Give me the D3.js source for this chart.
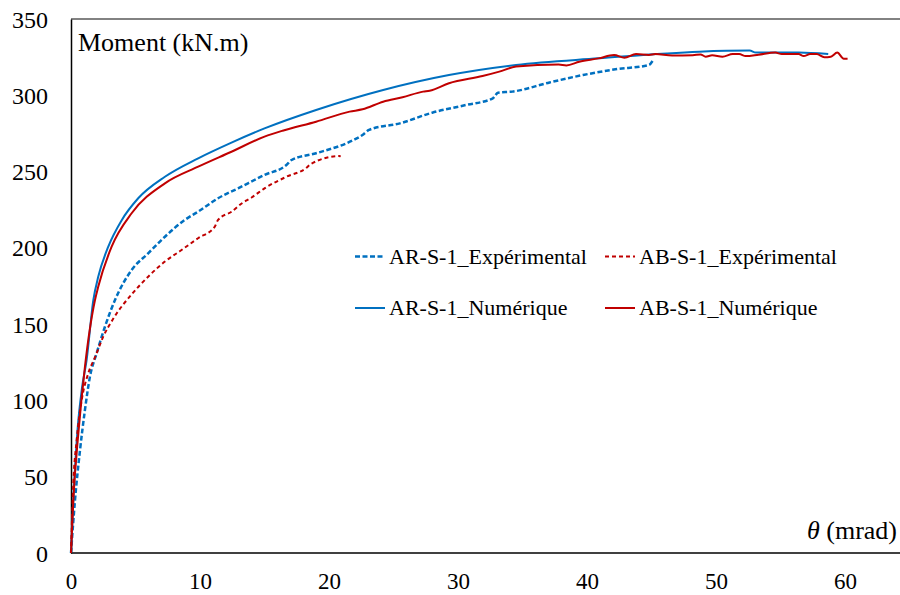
<!DOCTYPE html>
<html><head><meta charset="utf-8">
<script src="https://cdn.jsdelivr.net/npm/d3@7"></script>
<style>body{margin:0;background:#fff}svg{display:block}text{font-family:"Liberation Serif","Times New Roman",serif;fill:#000}</style>
</head><body>
<svg id="c" width="900" height="595"></svg>
<script>
const xTicks = [0, 10, 20, 30, 40, 50, 60];
const yTicks = [0, 50, 100, 150, 200, 250, 300, 350];

const arNumX = [0, 0.2, 0.5, 0.85, 1.21, 1.73, 2.11, 2.89, 3.92, 5.21, 7.28, 9.86, 12.44, 15.0, 19.0, 24.2, 29.3, 34.5, 40.9, 48.7, 52.6, 53.1, 56.4, 58.7];
const arNumY = [0, 38, 80, 108, 126.5, 165.8, 181, 200.8, 218, 232.5, 246.6, 258.7, 269, 278.3, 290.4, 303.5, 313.3, 319.9, 324.2, 328.6, 329.3, 328, 328, 327];

const abNumX = [0, 0.18, 0.57, 1.08, 1.86, 2.11, 3.15, 4.70, 7.28, 9.86, 12.44, 15.0, 16.4, 19.0, 21.6, 22.6, 24.2, 25.7, 27.3, 27.8, 29.3, 31.9, 33.2, 34.5, 37.8, 38.4, 39.4, 40.9, 42.1, 42.9, 43.8, 44.8, 45.3, 46.6, 48.2, 48.8, 49.2, 49.7, 50.5, 51.3, 51.8, 52.3, 53.3, 54.6, 55.1, 56.4, 56.8, 57.3, 57.8, 58.4, 58.9, 59.4, 59.9, 60.2];
const abNumY = [0, 34.7, 78.4, 122, 165.8, 174.5, 200.8, 222.7, 242.3, 253.2, 263, 272.9, 276.8, 282.7, 289.3, 290.8, 295.8, 298.7, 302.4, 303, 307.9, 312.6, 315.5, 318.8, 320.1, 319.6, 322, 324.2, 326.4, 324.6, 327, 326.4, 327, 326, 326.2, 326.8, 325.3, 326.2, 325.3, 327, 327, 325.7, 326.6, 328, 327, 327, 325.7, 327, 327, 324.9, 325.3, 328, 324, 324];

const arExpX = [0, 0.31, 0.70, 1.08, 1.47, 1.99, 2.63, 3.41, 4.70, 5.98, 7.28, 8.82, 9.85, 11.4, 12.95, 15.0, 16.7, 17.1, 19.0, 21.9, 22.6, 23.1, 25.5, 28.0, 30.6, 32.7, 33.1, 34.2, 37.1, 39.7, 42.2, 44.8, 45.1];
const arExpY = [0, 34.7, 67.5, 93.7, 115.6, 131, 148.3, 165.8, 185.5, 196.4, 207.3, 218.3, 223.7, 232.5, 239, 247.8, 254.3, 257.6, 262, 270.7, 274, 277.3, 281.6, 288.6, 293.6, 298, 301.7, 302.4, 308.4, 313.3, 317, 319.9, 322.7];

const abExpX = [0, 0.18, 0.44, 0.83, 1.34, 1.86, 2.50, 3.27, 4.70, 5.98, 7.28, 8.57, 9.85, 11.15, 11.4, 12.44, 13.3, 14.0, 15.0, 16.7, 18.2, 18.6, 20.8, 20.9];
const abExpY = [0, 45.7, 74, 100.3, 117.8, 128.2, 141.8, 153.5, 169.5, 181.1, 191, 198.6, 206.3, 213.9, 218.3, 223.7, 229.5, 233, 239, 246.6, 252.1, 255, 260.2, 259.8];

const seriesNames = ["AR-S-1_Expérimental", "AB-S-1_Expérimental", "AR-S-1_Numérique", "AB-S-1_Numérique"];

const svg = d3.select("#c");
const x = d3.scaleLinear().domain([0, 65]).range([71, 71 + 65 * 12.9]);
const y = d3.scaleLinear().domain([0, 350]).range([553, 19]);

// top border
svg.append("line").attr("x1", 71).attr("x2", 900).attr("y1", 19).attr("y2", 19)
  .attr("stroke", "#595959").attr("stroke-width", 1.5);

// axes
const xAxis = svg.append("g").attr("transform", "translate(0,553)")
  .call(d3.axisBottom(x).tickValues(xTicks).tickSize(0).tickPadding(0).tickFormat(d3.format("d")));
xAxis.select(".domain").attr("stroke", "#000").attr("stroke-width", 1.5).attr("d", "M71,0H900");
xAxis.selectAll("text").attr("y", 36).attr("dy", 0).style("font-size", "23px").style("font-family", "Liberation Serif");

const yAxis = svg.append("g").attr("transform", "translate(71,0)")
  .call(d3.axisLeft(y).tickValues(yTicks).tickSize(0).tickPadding(0).tickFormat(d3.format("d")));
yAxis.select(".domain").attr("stroke", "#000").attr("stroke-width", 1.5);
yAxis.selectAll("text").attr("x", -23).attr("dy", 8).style("font-size", "24px").style("font-family", "Liberation Serif");

const mk = (xs, ys) => xs.map((v, i) => [v, ys[i]]);
const line = d3.line().x(d => x(d[0])).y(d => y(d[1])).curve(d3.curveMonotoneX);

const series = [
  {name: seriesNames[2], data: mk(arNumX, arNumY), color: "#0070C0", dash: null, w: 2},
  {name: seriesNames[0], data: mk(arExpX, arExpY), color: "#0070C0", dash: "5,2.5", w: 2.5},
  {name: seriesNames[1], data: mk(abExpX, abExpY), color: "#C00000", dash: "4,3", w: 2},
  {name: seriesNames[3], data: mk(abNumX, abNumY), color: "#C00000", dash: null, w: 2},
];
series.forEach(s => {
  svg.append("path").datum(s.data).attr("d", line).attr("fill", "none")
    .attr("stroke", s.color).attr("stroke-width", s.w)
    .attr("stroke-dasharray", s.dash).attr("stroke-linejoin", "round");
});

// titles
svg.append("text").attr("x", 78).attr("y", 51).style("font-size", "26px").text("Moment (kN.m)");
const xt = svg.append("text").attr("x", 897).attr("y", 539).attr("text-anchor", "end").style("font-size", "26px");
xt.append("tspan").style("font-style", "italic").text("θ");
xt.append("tspan").text(" (mrad)");

// legend
const legend = [
  {s: series[1], lx: 355, ly: 256.5},
  {s: series[2], lx: 605, ly: 256.5},
  {s: series[0], lx: 355, ly: 308},
  {s: series[3], lx: 605, ly: 308},
];
legend.forEach(l => {
  svg.append("line").attr("x1", l.lx).attr("x2", l.lx + 30).attr("y1", l.ly).attr("y2", l.ly)
    .attr("stroke", l.s.color).attr("stroke-width", l.s.w).attr("stroke-dasharray", l.s.dash);
  svg.append("text").attr("x", l.lx + 34).attr("y", l.ly + 7).style("font-size", "22px").text(l.s.name);
});
</script>
</body></html>
